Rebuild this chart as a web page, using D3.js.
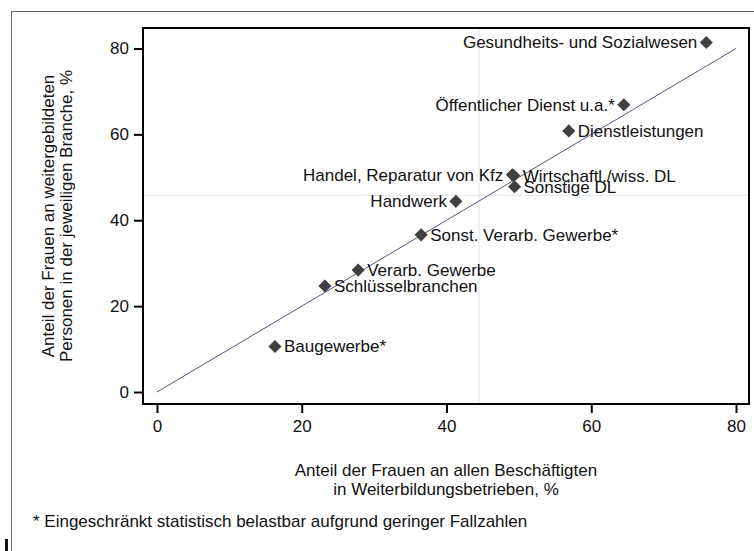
<!DOCTYPE html>
<html><head><meta charset="utf-8">
<script src="https://cdn.jsdelivr.net/npm/d3@7"></script>
<style>body{margin:0;background:#fff}svg{display:block}text{font-family:"Liberation Sans",Arial,sans-serif;fill:#111}</style>
</head><body><svg id="c" width="754" height="551"></svg>
<script>
const labels = ["Gesundheits- und Sozialwesen","Öffentlicher Dienst u.a.*","Dienstleistungen","Handel, Reparatur von Kfz","Wirtschaftl./wiss. DL","Sonstige DL","Handwerk","Sonst. Verarb. Gewerbe*","Verarb. Gewerbe","Schlüsselbranchen","Baugewerbe*"];
const xValues = [75.9, 64.5, 56.9, 49.1, 49.3, 49.4, 41.3, 36.5, 27.8, 23.2, 16.3];
const yValues = [81.4, 66.9, 60.8, 50.6, 50.4, 47.8, 44.4, 36.6, 28.4, 24.7, 10.6];
const labelSide = ["left","left","right","left","right","right","left","right","right","right","right"];
const meanX = 44.5, meanY = 45.8;
const ticks = [0, 20, 40, 60, 80];

const svg = d3.select("#c");
const FS = 17;
const L = 143, R = 749, T = 28, B = 404;
const x = d3.scaleLinear().domain([0, 80]).range([157, 736]);
const y = d3.scaleLinear().domain([0, 80]).range([392, 48.5]);

// outer border
svg.append("rect").attr("x", 11.5).attr("y", 11.5).attr("width", 760).attr("height", 560)
  .attr("fill", "none").attr("stroke", "#666").attr("stroke-width", 1);
svg.append("rect").attr("x", 5).attr("y", 539).attr("width", 3).attr("height", 12).attr("fill", "#111");

// mean reference lines
svg.append("line").attr("x1", x(meanX)).attr("x2", x(meanX)).attr("y1", T).attr("y2", B)
  .attr("stroke", "#dde5ec").attr("stroke-width", 1);
svg.append("line").attr("x1", L).attr("x2", R).attr("y1", y(meanY)).attr("y2", y(meanY))
  .attr("stroke", "#dde5ec").attr("stroke-width", 1);

// diagonal
svg.append("line").attr("x1", x(0)).attr("y1", y(0)).attr("x2", x(80)).attr("y2", y(80))
  .attr("stroke", "#2a2a60").attr("stroke-width", 0.8);

// frame
svg.append("rect").attr("x", L).attr("y", T).attr("width", R - L).attr("height", B - T)
  .attr("fill", "none").attr("stroke", "#000").attr("stroke-width", 2);

// axes
const xAxis = svg.append("g").attr("transform", `translate(0,${B})`)
  .call(d3.axisBottom(x).tickValues(ticks).tickSize(9).tickPadding(7).tickFormat(d3.format("d")));
const yAxis = svg.append("g").attr("transform", `translate(${L},0)`)
  .call(d3.axisLeft(y).tickValues(ticks).tickSize(9).tickPadding(5).tickFormat(d3.format("d")));
[xAxis, yAxis].forEach(g => {
  g.select(".domain").remove();
  g.selectAll(".tick line").attr("stroke", "#000").attr("stroke-width", 2);
  g.selectAll(".tick text").attr("font-size", FS).attr("fill", "#111")
    .style("font-family", '"Liberation Sans",Arial,sans-serif');
});

// points
const data = labels.map((l, i) => ({l, x: xValues[i], y: yValues[i], s: labelSide[i]}));
svg.selectAll("path.pt").data(data).enter().append("path").attr("class", "pt")
  .attr("d", d3.symbol(d3.symbolDiamond2, 110))
  .attr("transform", d => `translate(${x(d.x)},${y(d.y)})`)
  .attr("fill", "#404040");
svg.selectAll("text.lab").data(data).enter().append("text").attr("class", "lab")
  .attr("x", d => x(d.x) + (d.s === "left" ? -9 : 9))
  .attr("y", d => y(d.y))
  .attr("dy", "0.35em")
  .attr("text-anchor", d => d.s === "left" ? "end" : "start")
  .attr("font-size", FS)
  .text(d => d.l);

// axis titles
svg.append("text").attr("x", (L + R) / 2).attr("y", 476).attr("text-anchor", "middle").attr("font-size", FS)
  .text("Anteil der Frauen an allen Beschäftigten");
svg.append("text").attr("x", (L + R) / 2).attr("y", 495).attr("text-anchor", "middle").attr("font-size", FS)
  .text("in Weiterbildungsbetrieben, %");
const yt = svg.append("g").attr("transform", `translate(0,${(T + B) / 2}) rotate(-90)`);
yt.append("text").attr("x", 0).attr("y", 54).attr("text-anchor", "middle").attr("font-size", FS)
  .text("Anteil der Frauen an weitergebildeten");
yt.append("text").attr("x", 0).attr("y", 72).attr("text-anchor", "middle").attr("font-size", FS)
  .text("Personen in der jeweiligen Branche, %");

// footnote
svg.append("text").attr("x", 33).attr("y", 527).attr("font-size", FS)
  .text("* Eingeschränkt statistisch belastbar aufgrund geringer Fallzahlen");
</script></body></html>
